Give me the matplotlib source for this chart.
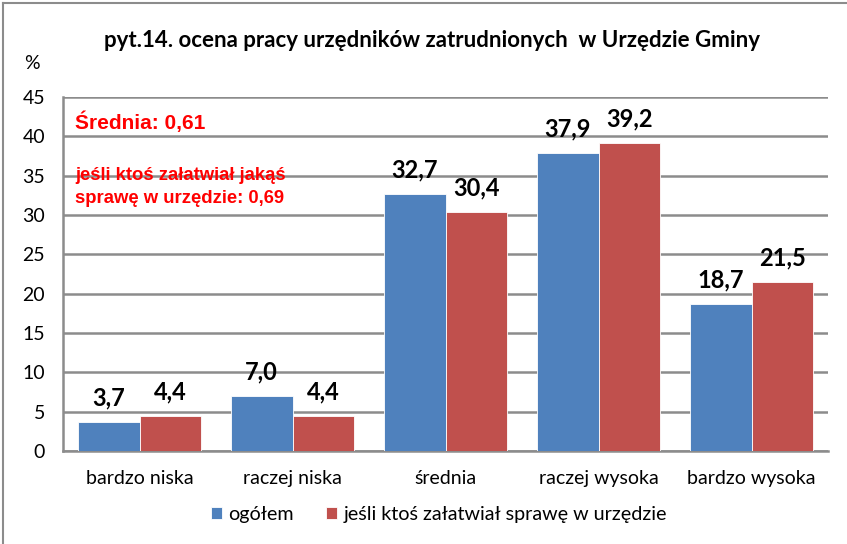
import matplotlib.pyplot as plt
import numpy as np
from matplotlib.lines import Line2D

# %% Data
categories = ["bardzo niska", "raczej niska", "średnia", "raczej wysoka", "bardzo wysoka"]
ogolem = [3.7, 7.0, 32.7, 37.9, 18.7]
zalatwial = [4.4, 4.4, 30.4, 39.2, 21.5]
series_labels = ["ogółem", "jeśli ktoś załatwiał sprawę w urzędzie"]

# %% Style
BLUE = "#4F81BD"
RED = "#C0504D"
GRID = "#8C8C8C"
FONT = ["Lato", "DejaVu Sans"]

plt.rcParams.update({"font.family": FONT})

fig = plt.figure(figsize=(8.47, 5.44), dpi=100)
ax = fig.add_axes([0.0744, 0.171, 0.9032, 0.6507])

x = np.arange(len(categories))
w = 0.405
b1 = ax.bar(x - w / 2, ogolem, w, color=BLUE, edgecolor="white", linewidth=0.6,
            label=series_labels[0], zorder=3)
b2 = ax.bar(x + w / 2, zalatwial, w, color=RED, edgecolor="white", linewidth=0.6,
            label=series_labels[1], zorder=3)
for hdl, vals in ((b1, ogolem), (b2, zalatwial)):
    ax.bar_label(hdl, labels=[f"{v:.1f}".replace(".", ",") for v in vals],
                 padding=9, fontsize=17, fontweight="bold", color="black")

ax.set_xlim(-0.5, len(categories) - 0.5)
ax.set_ylim(0, 45)
ax.set_yticks(range(0, 46, 5))
ax.set_xticks(x)
ax.set_xticklabels(categories)
ax.tick_params(axis="both", labelsize=14, length=0, colors="black")
ax.tick_params(axis="x", pad=14)
ax.tick_params(axis="y", pad=13)
ax.grid(axis="y", color=GRID, linewidth=1.8, zorder=0)
for s in ("top", "right"):
    ax.spines[s].set_visible(False)
for s in ("left", "bottom"):
    ax.spines[s].set_color(GRID)
    ax.spines[s].set_linewidth(1.8)

fig.text(0.51, 0.925, "pyt.14. ocena pracy urzędników zatrudnionych  w Urzędzie Gminy",
         ha="center", va="center", fontsize=16, fontweight="bold")
fig.text(0.038, 0.884, "%", ha="center", va="center", fontsize=14)

ax.text(0.016, 41.8, "Średnia: 0,61", color="#FF0000", fontsize=15, fontweight="bold",
        family="Liberation Sans", va="center", ha="left",
        transform=ax.get_yaxis_transform())
ax.text(0.016, 33.6, "jeśli ktoś załatwiał jakąś\nsprawę w urzędzie: 0,69", color="#FF0000",
        fontsize=13.3, fontweight="bold", family="Liberation Sans", va="center", ha="left",
        linespacing=1.45, transform=ax.get_yaxis_transform())

fig.legend(handles=[b1, b2], labels=series_labels, loc="center", bbox_to_anchor=(0.518, 0.054),
           ncol=2, frameon=False, fontsize=14.2, handlelength=0.6, handleheight=0.6,
           handletextpad=0.3, columnspacing=1.6)

# outer border
fig.add_artist(Line2D([0.004, 0.004], [0, 0.995], color=GRID, linewidth=1.5))
fig.add_artist(Line2D([0.004, 1.0], [0.995, 0.995], color=GRID, linewidth=1.5))

fig.savefig("out.png", dpi=100)
